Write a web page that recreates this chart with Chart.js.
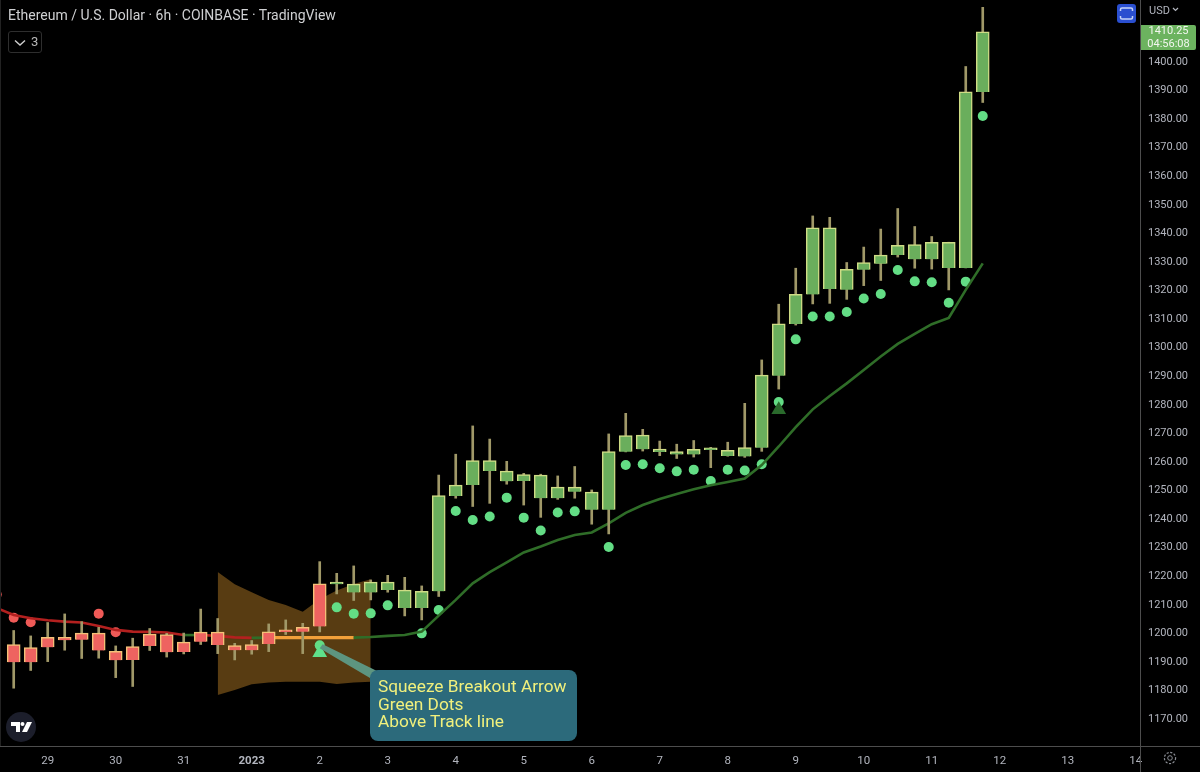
<!DOCTYPE html>
<html>
<head>
<meta charset="utf-8">
<title>Ethereum / U.S. Dollar</title>
<script src="https://cdn.jsdelivr.net/npm/chart.js@4/dist/chart.umd.min.js"></script>
<style>
    html, body { margin: 0; padding: 0; background: #000; }
    #wrap { position: relative; width: 1200px; height: 772px; overflow: hidden; font-family: Roboto, sans-serif; }
    canvas { position: absolute; left: 0; top: 0; }
    .label { position: absolute; white-space: nowrap; }
    #title { left: 8px; top: 6px; font-size: 14px; line-height: 18px; color: #cfd0d2; }
    #collapse { left: 8px; top: 31px; width: 32px; height: 20px; border: 1px solid #2e2e2e; border-radius: 3px; font-size: 13px; line-height: 20px; color: #b8b8b8; }
    #collapse svg { position: absolute; left: 5px; top: 7px; }
    #collapse span { position: absolute; left: 22px; top: 0; }
    #usd { left: 1149px; top: 4px; font-size: 11px; line-height: 14px; color: #b2b5be; }
    #usd svg { margin-left: 2px; vertical-align: 2px; }
    #lastPrice { left: 1141px; top: 25px; width: 55px; height: 25px; background: #6cb35f; border-radius: 0 2px 2px 0; font-size: 11px; line-height: 12.5px; text-align: center; color: #f2f6ef; }
    #fullscreen { left: 1117px; top: 4px; width: 19px; height: 19px; background: #2a4fd0; border-radius: 3px; }
    #note { left: 370px; top: 670px; width: 199px; height: 71px; padding: 0 0 0 8px; background: #2c6a7b; border-radius: 8px; color: #f1f07c; font-size: 17.3px; line-height: 17.6px; }
    #note div { position: relative; top: 8px; }
    #tvLogo { left: 6px; top: 712px; width: 30px; height: 30px; border-radius: 15px; background: #1c1e2b; }
    #gear { left: 1162px; top: 750px; }
</style>
</head>
<body>
<div id="wrap">
    <canvas id="priceChart" width="1200" height="772"></canvas>
    <div class="label" id="title">Ethereum / U.S. Dollar · 6h · COINBASE · TradingView</div>
    <div class="label" id="collapse"><svg width="12" height="8" viewBox="0 0 12 8"><path d="M1 1.5 L6 6 L11 1.5" fill="none" stroke="#cfcfcf" stroke-width="1.4"/></svg><span>3</span></div>
    <div class="label" id="usd">USD<svg width="7" height="5" viewBox="0 0 7 5"><path d="M1 1 L3.5 3.5 L6 1" fill="none" stroke="#b2b5be" stroke-width="1.2"/></svg></div>
    <div class="label" id="lastPrice"><div>1410.25</div><div>04:56:08</div></div>
    <div class="label" id="fullscreen"><svg width="19" height="19" viewBox="0 0 19 19"><path d="M3.5 7 V5.5 Q3.5 4 5 4 H14 Q15.5 4 15.5 5.5 V7 M3.5 12 V13.5 Q3.5 15 5 15 H14 Q15.5 15 15.5 13.5 V12" fill="none" stroke="#c5d3f7" stroke-width="1.5"/></svg></div>
    <div class="label" id="note"><div>Squeeze Breakout Arrow</div><div>Green Dots</div><div>Above Track line</div></div>
    <div class="label" id="tvLogo"><svg width="30" height="30" viewBox="0 0 30 30"><path d="M5 10 H14 V20 H10 V14 H5 Z" fill="#fff"/><circle cx="16.5" cy="12" r="2" fill="#fff"/><path d="M21 10 H26 L21 20 H16 Z" fill="#fff"/></svg></div>
    <div class="label" id="gear"><svg width="16" height="16" viewBox="0 0 16 16"><circle cx="8" cy="8" r="2.3" fill="none" stroke="#8a8d94" stroke-width="1"/><circle cx="8" cy="8" r="5.6" fill="none" stroke="#8a8d94" stroke-width="1.2" stroke-dasharray="2.2 1.5"/></svg></div>
</div>

<script>
// 6h candles, first visible bar is index 0
const candleOpen = [1195.6, 1194.5, 1198.1, 1198.1, 1199.6, 1199.6, 1193.2, 1194.9, 1199.2, 1199.1, 1196.4, 1199.9, 1199.9, 1195.2, 1195.6, 1200, 1200.1, 1201.6, 1216.8, 1216.7,
    1213.8, 1213.8, 1214.7, 1208.4, 1208.4, 1214.2, 1247.6, 1251.4, 1256.3, 1252.7, 1252.8, 1246.8, 1246.8, 1249.1, 1242.8, 1242.8, 1263.1, 1263.9, 1263, 1262.1,
    1262.1, 1263.7, 1261.6, 1261.4, 1264.5, 1289.7, 1307.8, 1318.1, 1320, 1319.8, 1326.8, 1329, 1331.9, 1330.4, 1330.4, 1327.4, 1327.4, 1389];
const candleClose = [1189.4, 1189.4, 1194.6, 1197.2, 1197.3, 1193.5, 1190.1, 1190.2, 1195.1, 1192.9, 1193, 1196.6, 1195.4, 1193.6, 1193.6, 1195.8, 1200, 1200.1, 1201.9, 1216.8,
    1216.7, 1217.4, 1217.4, 1214.6, 1214.2, 1247.7, 1251.4, 1260, 1260, 1256.3, 1255.1, 1254.9, 1250.7, 1250.7, 1248.9, 1263.1, 1268.7, 1268.9, 1264, 1263.1,
    1263.9, 1263.8, 1263.6, 1264.5, 1289.9, 1307.8, 1318.2, 1341.4, 1341.4, 1326.9, 1329.3, 1331.9, 1335.3, 1335.6, 1336.4, 1336.4, 1389, 1410];
const candleHigh = [1200.5, 1198.6, 1203.3, 1206.3, 1203.6, 1201.6, 1195.1, 1197.8, 1201.2, 1199.5, 1199.6, 1208, 1204.7, 1196, 1197, 1202.8, 1204.2, 1203, 1224.6, 1220.5,
    1223.1, 1218.2, 1219.8, 1219.1, 1216.1, 1254.9, 1262.2, 1272.1, 1267.5, 1259.7, 1255.5, 1255.2, 1254.6, 1257.9, 1249.7, 1269.3, 1276.5, 1270.9, 1266.8, 1265.7,
    1267, 1264.6, 1266.4, 1280, 1295.2, 1314.7, 1327.3, 1345.6, 1345.1, 1329.3, 1334.7, 1341, 1348.2, 1341.9, 1338.4, 1336.4, 1397.9, 1418.6];
const candleLow = [1180.3, 1186.5, 1189.6, 1193.6, 1190.7, 1190.8, 1184, 1180.9, 1193.5, 1191.2, 1192.3, 1195.6, 1192.4, 1190.2, 1192.2, 1193.1, 1199.1, 1192.4, 1200, 1213.3,
    1211, 1211.2, 1213.9, 1205.6, 1204.2, 1212.4, 1246.8, 1243.9, 1245, 1251.7, 1244.4, 1240.1, 1246.4, 1246.8, 1237.7, 1234.3, 1263, 1263.3, 1261.7, 1260.7,
    1261.2, 1257.5, 1261.5, 1261.1, 1263.2, 1285, 1307.4, 1314.8, 1315, 1316.4, 1321.2, 1323, 1331.2, 1327.3, 1327, 1319.7, 1327.4, 1385.3];

// track line starts one bar left of the frame
const trackStart = -1;
const trackValues = [1208.4, 1205.9, 1204.8, 1204.1, 1203.6, 1203.3, 1202.1, 1200.7, 1200.1, 1200, 1199.8, 1198.9, 1198.9, 1198.6, 1198.1, 1197.9, 1198, 1198, 1198, 1198, 1198,
    1198, 1198.2, 1198.6, 1198.9, 1200.1, 1205.7, 1211.2, 1217, 1220.9, 1224.3, 1227.8, 1229.9, 1232.2, 1233.9, 1234.8, 1238, 1241.7, 1244.4, 1246.5, 1248.3,
    1249.9, 1251.3, 1252.5, 1253.7, 1258.4, 1264.9, 1271.7, 1277.9, 1282.6, 1287, 1291.7, 1296.4, 1300.8, 1304.3, 1307.7, 1309.9, 1319.7, 1329];
// colour of the line for each bar range, as [from bar, colour]
const trackRed = '#b3201f';
const trackGreen = '#2f6d28';
const trackOrange = '#f2a03a';
const trackRanges = [[-1, trackRed], [10, trackGreen], [11, trackRed], [14, trackGreen], [15, trackOrange], [20, trackGreen]];

const redDotBars = [-1, 0, 1, 5, 6];
const redDotValues = [1213.1, 1205, 1203.4, 1206.4, 1199.9];
const greenDotBars = [18, 19, 20, 21, 22, 24, 25, 26, 27, 28, 29, 30, 31, 32, 33, 35, 36, 37, 38, 39, 40, 41, 42, 43, 44, 45, 46, 47, 48, 49, 50, 51, 52, 53, 54, 55, 56, 57];
const greenDotValues = [1195.3, 1208.6, 1206.4, 1206.5, 1209.3, 1199.5, 1207.7, 1242.3, 1239.2, 1240.4, 1247, 1240, 1235.5, 1241.8, 1242.2, 1229.7, 1258.4, 1258.7, 1257.3, 1256.2,
    1256.8, 1252.8, 1256.8, 1256.5, 1258.7, 1280.5, 1302.4, 1310.4, 1310.4, 1312, 1316.7, 1318.3, 1326.7, 1322.7, 1322.4, 1315.2, 1322.6, 1380.6];

// squeeze breakout arrows
const arrowBars = [18, 45];
const arrowValues = [1192.7, 1277.8];
const arrowColors = ['#5fe08a', '#2a6a2c'];

// squeeze band
const bandBars = [12, 13, 14, 15, 16, 17, 18, 19, 20, 21];
const bandUpper = [1221, 1216.7, 1213.9, 1211.2, 1209.4, 1207.1, 1211.4, 1214.5, 1216.8, 1218.4];
const bandLower = [1177.9, 1179.7, 1181.7, 1182.3, 1182.6, 1182.6, 1182.6, 1181.8, 1182.3, 1182.6];

const priceTicks = [1170, 1180, 1190, 1200, 1210, 1220, 1230, 1240, 1250, 1260, 1270, 1280, 1290, 1300, 1310, 1320, 1330, 1340, 1350, 1360, 1370, 1380, 1390, 1400];
const dayTickBars = [2, 6, 10, 14, 18, 22, 26, 30, 34, 38, 42, 46, 50, 54, 58, 62, 66];
const dayTickLabels = ['29', '30', '31', '2023', '2', '3', '4', '5', '6', '7', '8', '9', '10', '11', '12', '13', '14'];

const bars = candleOpen.map((_, i) => i);

function trackColorAt(bar) {
    let color = trackRanges[0][1];
    trackRanges.forEach(r => { if (bar >= r[0]) color = r[1]; });
    return color;
}

// the axes should not push the plot area in for their outer labels
function noAxisPadding(axis) {
    axis.paddingTop = 0;
    axis.paddingBottom = 0;
    axis.paddingLeft = 0;
    axis.paddingRight = 0;
}

// wedge from the arrow to the note box, plus the frame lines
const overlayPlugin = {
    id: 'overlay',
    afterDatasetsDraw(chart) {
        const ctx = chart.ctx;
        const area = chart.chartArea;
        const x = chart.scales.x.getPixelForValue(arrowBars[0]);
        const y = chart.scales.y.getPixelForValue(greenDotValues[0]);
        ctx.save();
        ctx.fillStyle = '#5d9580';
        ctx.beginPath();
        ctx.moveTo(x, y + 3);
        ctx.lineTo(x + 3, y - 1);
        ctx.lineTo(377, 671);
        ctx.lineTo(370, 678);
        ctx.closePath();
        ctx.fill();

        ctx.strokeStyle = '#4d4d4d';
        ctx.lineWidth = 1;
        ctx.beginPath();
        ctx.moveTo(0, area.bottom + 0.5);
        ctx.lineTo(chart.width, area.bottom + 0.5);
        ctx.moveTo(area.right + 0.5, 0);
        ctx.lineTo(area.right + 0.5, chart.height);
        ctx.stroke();
        ctx.strokeStyle = '#222';
        ctx.beginPath();
        ctx.moveTo(0.5, 0);
        ctx.lineTo(0.5, area.bottom);
        ctx.stroke();
        ctx.restore();
    }
};

const chart = new Chart(document.getElementById('priceChart').getContext('2d'), {
    type: 'bar',
    data: {
        datasets: [
            {
                type: 'line',
                data: bandUpper.map((v, i) => ({ x: bandBars[i], y: v })),
                borderWidth: 0,
                pointRadius: 0,
                backgroundColor: '#583c12',
                fill: '+1',
                order: 7
            },
            {
                type: 'line',
                data: bandLower.map((v, i) => ({ x: bandBars[i], y: v })),
                borderWidth: 0,
                pointRadius: 0,
                fill: false,
                order: 7
            },
            {
                type: 'scatter',
                data: redDotValues.map((v, i) => ({ x: redDotBars[i], y: v })),
                pointRadius: 5,
                pointBackgroundColor: '#ef5a57',
                pointBorderWidth: 0,
                order: 5
            },
            {
                type: 'scatter',
                data: greenDotValues.map((v, i) => ({ x: greenDotBars[i], y: v })),
                pointRadius: 5,
                pointBackgroundColor: '#63dd85',
                pointBorderWidth: 0,
                order: 5
            },
            {
                type: 'line',
                data: trackValues.map((v, i) => ({ x: trackStart + i, y: v })),
                borderWidth: 2.6,
                borderColor: trackRed,
                pointRadius: 0,
                segment: {
                    borderColor: c => trackColorAt(c.p0.parsed.x),
                    borderWidth: c => trackColorAt(c.p0.parsed.x) === trackOrange ? 3.2 : 2.6
                },
                order: 4
            },
            {
                data: bars.map(i => ({ x: i, y: [candleLow[i], candleHigh[i]] })),
                grouped: false,
                barThickness: 2,
                backgroundColor: '#a09868',
                order: 3
            },
            {
                data: bars.map(i => ({ x: i, y: [candleOpen[i], candleClose[i]] })),
                grouped: false,
                barThickness: 13,
                minBarLength: 2,
                backgroundColor: bars.map(i => candleClose[i] >= candleOpen[i] ? '#6aae5c' : '#ee6360'),
                borderColor: bars.map(i => candleClose[i] >= candleOpen[i] ? '#cfdc85' : '#f4c278'),
                borderWidth: 1.5,
                order: 2
            },
            {
                type: 'scatter',
                data: arrowValues.map((v, i) => ({ x: arrowBars[i], y: v })),
                pointStyle: 'triangle',
                pointRadius: 8.5,
                pointBackgroundColor: arrowColors,
                pointBorderWidth: 0,
                order: 1
            }
        ]
    },
    options: {
        responsive: false,
        animation: false,
        events: [],
        layout: { padding: 0, autoPadding: false },
        plugins: { legend: { display: false }, tooltip: { enabled: false }, title: { display: false } },
        scales: {
            x: {
                type: 'linear',
                offset: false,
                min: -0.806,
                max: 66.25,
                grid: { display: false },
                border: { display: false },
                afterBuildTicks: axis => { axis.ticks = dayTickBars.map(v => ({ value: v })); },
                afterFit: axis => { axis.height = 26; noAxisPadding(axis); },
                ticks: {
                    autoSkip: false,
                    maxRotation: 0,
                    padding: 0,
                    color: '#b2b5be',
                    font: ctx => ({ family: 'Roboto', size: 11.5, weight: dayTickLabels[ctx.index] === '2023' ? 'bold' : 'normal' }),
                    callback: (v, i) => dayTickLabels[i]
                }
            },
            y: {
                position: 'right',
                min: 1160.07,
                max: 1421.175,
                grid: { display: false },
                border: { display: false },
                afterBuildTicks: axis => { axis.ticks = priceTicks.map(v => ({ value: v })); },
                afterFit: axis => { axis.width = 60; noAxisPadding(axis); },
                ticks: {
                    autoSkip: false,
                    padding: 0,
                    labelOffset: 1.5,
                    color: '#b2b5be',
                    font: { family: 'Roboto', size: 11 },
                    callback: v => v.toFixed(2)
                }
            }
        }
    },
    plugins: [overlayPlugin]
});
</script>
</body>
</html>
